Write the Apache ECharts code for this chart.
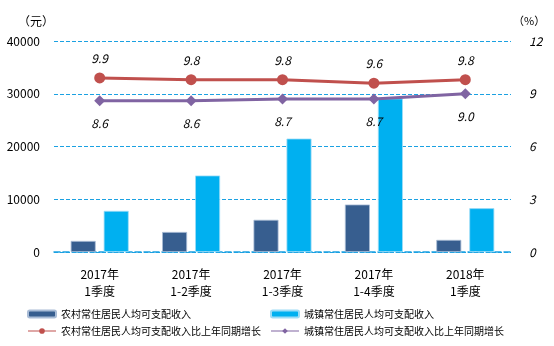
<!DOCTYPE html>
<html><head><meta charset="utf-8">
<script src="https://cdn.jsdelivr.net/npm/echarts@6/dist/echarts.min.js"></script>
<style>html,body{margin:0;padding:0;background:#fff}#c{width:554px;height:346px}</style>
</head><body><div id="c"></div>
<script>
var categories = ['2017年\n1季度', '2017年\n1-2季度', '2017年\n1-3季度', '2017年\n1-4季度', '2018年\n1季度'];
var ruralIncome = [2100, 3800, 6100, 9000, 2300];
var urbanIncome = [7800, 14500, 21500, 29100, 8300];
var ruralGrowth = [9.9, 9.8, 9.8, 9.6, 9.8];
var urbanGrowth = [8.6, 8.6, 8.7, 8.7, 9.0];
var names = ['农村常住居民人均可支配收入', '城镇常住居民人均可支配收入', '农村常住居民人均可支配收入比上年同期增长', '城镇常住居民人均可支配收入比上年同期增长'];
var FONT = '"Noto Sans CJK SC", sans-serif';
var BLUE = '#1BA1E2';
var chart = echarts.init(document.getElementById('c'), null, {renderer: 'canvas'});
var legendText = {fontSize: 10, color: '#000', fontFamily: FONT};
chart.setOption({
  animation: false,
  textStyle: {fontFamily: FONT},
  grid: {left: 54, right: 43, top: 41, bottom: 94, containLabel: false},
  graphic: [
    {type: 'text', left: 18, top: 15, style: {text: '（元）', font: '12px ' + FONT, fill: '#000'}},
    {type: 'text', left: 513, top: 15, style: {text: '（%）', font: '11px ' + FONT, fill: '#000'}}
  ],
  legend: [
    {orient: 'vertical', left: 22, top: 304, itemWidth: 28, itemHeight: 7, itemGap: 7,
     textStyle: legendText,
     data: [names[0], {name: names[2], lineStyle: {opacity: 0.5}}]},
    {orient: 'vertical', left: 265, top: 304, itemWidth: 28, itemHeight: 7, itemGap: 7,
     textStyle: legendText,
     data: [names[1], {name: names[3], lineStyle: {opacity: 0.5}}]}
  ],
  xAxis: {
    type: 'category', data: categories, boundaryGap: true,
    axisLine: {lineStyle: {color: BLUE, type: 'dashed', width: 1.5}},
    axisTick: {inside: true, length: 4, lineStyle: {color: BLUE}},
    axisLabel: {color: '#000', fontSize: 12, lineHeight: 17, margin: 14, fontFamily: FONT}
  },
  yAxis: [
    {type: 'value', min: 0, max: 40000, interval: 10000,
     axisLine: {show: false}, axisTick: {show: false},
     axisLabel: {color: '#000', fontSize: 12, margin: 14, fontFamily: FONT,
       formatter: function (v) { return String(v); }},
     splitLine: {lineStyle: {color: BLUE, type: 'dashed', width: 1}}},
    {type: 'value', min: 0, max: 12, interval: 3,
     axisLine: {show: false}, axisTick: {show: false},
     axisLabel: {color: '#000', fontSize: 12, fontStyle: 'italic', margin: 18, fontFamily: FONT},
     splitLine: {show: false}}
  ],
  series: [
    {name: names[0], type: 'bar', data: ruralIncome, barWidth: 25, barGap: '32%',
     itemStyle: {color: '#375E8F', borderColor: '#A9BCD6', borderWidth: 0.8}},
    {name: names[1], type: 'bar', data: urbanIncome, barWidth: 25,
     itemStyle: {color: '#00B0F0', borderColor: '#9EDCF6', borderWidth: 0.8}},
    {name: names[2], type: 'line', yAxisIndex: 1, data: ruralGrowth, z: 5,
     symbol: 'circle', symbolSize: 11,
     lineStyle: {color: '#C0504D', width: 3}, itemStyle: {color: '#C0504D'},
     label: {show: true, position: 'top', distance: 8, color: '#000', fontSize: 12, fontStyle: 'italic',
       formatter: function (p) { return p.value.toFixed(1); }}},
    {name: names[3], type: 'line', yAxisIndex: 1, data: urbanGrowth, z: 5,
     symbol: 'diamond', symbolSize: 11,
     lineStyle: {color: '#8064A2', width: 3}, itemStyle: {color: '#8064A2'},
     label: {show: true, position: 'bottom', distance: 11, color: '#000', fontSize: 12, fontStyle: 'italic',
       formatter: function (p) { return p.value.toFixed(1); }}}
  ]
});
</script></body></html>
